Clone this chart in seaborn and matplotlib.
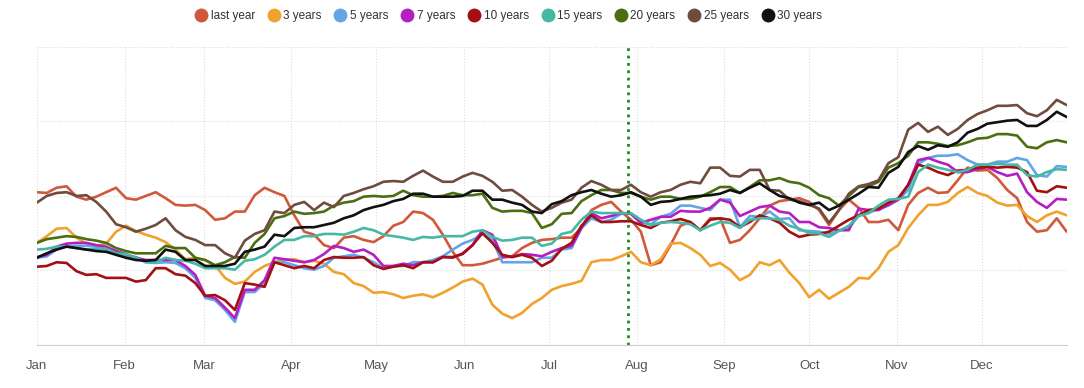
import pandas as pd
import seaborn as sns
import matplotlib.dates as mdates
from matplotlib import pyplot as plt
from matplotlib.lines import Line2D

# readings every half week, Jan 1 .. Dec 31
dates = pd.date_range("2023-01-01", periods=105, freq="84h")

last_year = [2.05, 2.04, 2.11, 2.13, 1.99, 1.95, 1.99, 2.05, 2.11, 1.97,
             1.95, 2.00, 2.05, 1.97, 1.88, 1.87, 1.88, 1.81, 1.68, 1.70,
             1.79, 1.79, 2.01, 2.11, 2.05, 2.00, 1.74, 1.52, 1.48, 1.34,
             1.30, 1.44, 1.46, 1.41, 1.38, 1.46, 1.60, 1.65, 1.79, 1.77,
             1.68, 1.48, 1.25, 1.07, 1.07, 1.09, 1.13, 1.17, 1.19, 1.30,
             1.37, 1.41, 1.42, 1.44, 1.44, 1.57, 1.81, 1.88, 1.92, 1.79,
             1.68, 1.52, 1.07, 1.11, 1.34, 1.60, 1.65, 1.54, 1.70, 1.70,
             1.37, 1.41, 1.54, 1.70, 1.87, 1.93, 1.95, 1.97, 1.92, 1.81,
             1.61, 1.81, 1.95, 1.84, 1.65, 1.65, 1.68, 1.54, 1.88, 2.04,
             2.11, 2.04, 2.05, 2.21, 2.38, 2.34, 2.35, 2.24, 2.08, 1.97,
             1.65, 1.52, 1.54, 1.70, 1.52]
y3 = [1.37, 1.46, 1.56, 1.57, 1.44, 1.36, 1.33, 1.36, 1.52, 1.60,
      1.53, 1.48, 1.44, 1.38, 1.28, 1.15, 1.17, 1.14, 1.07, 0.90,
      0.82, 0.85, 0.98, 1.06, 1.11, 1.15, 1.15, 1.11, 1.13, 1.09,
      0.98, 0.95, 0.83, 0.79, 0.70, 0.71, 0.68, 0.63, 0.66, 0.68,
      0.64, 0.70, 0.77, 0.85, 0.89, 0.81, 0.54, 0.42, 0.36, 0.43,
      0.55, 0.63, 0.74, 0.79, 0.82, 0.86, 1.11, 1.14, 1.14, 1.19,
      1.25, 1.11, 1.07, 1.15, 1.36, 1.37, 1.30, 1.21, 1.06, 1.10,
      1.01, 0.87, 0.94, 1.11, 1.07, 1.14, 0.97, 0.83, 0.64, 0.74,
      0.62, 0.70, 0.78, 0.90, 0.89, 1.03, 1.25, 1.34, 1.57, 1.74,
      1.88, 1.88, 1.92, 2.04, 2.12, 2.04, 2.00, 1.91, 1.87, 1.88,
      1.73, 1.65, 1.74, 1.79, 1.74]
y5 = [1.17, 1.19, 1.28, 1.32, 1.33, 1.33, 1.32, 1.28, 1.21, 1.19,
      1.18, 1.11, 1.10, 1.11, 1.10, 1.03, 0.90, 0.63, 0.60, 0.47,
      0.31, 0.71, 0.71, 0.83, 1.11, 1.11, 1.07, 1.03, 1.01, 1.06,
      1.17, 1.19, 1.21, 1.17, 1.11, 1.03, 1.06, 1.06, 1.11, 1.11,
      1.14, 1.19, 1.28, 1.36, 1.41, 1.49, 1.41, 1.11, 1.11, 1.11,
      1.11, 1.17, 1.17, 1.28, 1.30, 1.57, 1.70, 1.65, 1.68, 1.76,
      1.76, 1.64, 1.62, 1.72, 1.76, 1.87, 1.87, 1.84, 1.81, 1.95,
      1.95, 1.58, 1.73, 1.72, 1.79, 1.69, 1.70, 1.54, 1.53, 1.52,
      1.49, 1.54, 1.56, 1.74, 1.77, 1.83, 1.87, 1.95, 2.08, 2.43,
      2.51, 2.54, 2.54, 2.56, 2.48, 2.42, 2.42, 2.46, 2.46, 2.51,
      2.48, 2.28, 2.26, 2.40, 2.39]
y7 = [1.18, 1.21, 1.32, 1.36, 1.37, 1.37, 1.34, 1.32, 1.26, 1.22,
      1.17, 1.14, 1.14, 1.14, 1.14, 1.06, 0.94, 0.66, 0.63, 0.50,
      0.36, 0.74, 0.74, 0.87, 1.17, 1.15, 1.13, 1.11, 1.14, 1.22,
      1.33, 1.30, 1.25, 1.28, 1.21, 1.06, 1.06, 1.09, 1.07, 1.11,
      1.11, 1.18, 1.17, 1.23, 1.34, 1.54, 1.48, 1.19, 1.18, 1.22,
      1.21, 1.19, 1.25, 1.30, 1.33, 1.57, 1.77, 1.70, 1.73, 1.77,
      1.76, 1.64, 1.68, 1.72, 1.72, 1.80, 1.79, 1.79, 1.84, 1.95,
      1.91, 1.73, 1.79, 1.85, 1.87, 1.79, 1.77, 1.65, 1.65, 1.58,
      1.57, 1.54, 1.54, 1.83, 1.81, 1.81, 1.88, 1.95, 2.15, 2.48,
      2.51, 2.46, 2.42, 2.32, 2.32, 2.36, 2.39, 2.32, 2.27, 2.30,
      2.05, 1.92, 1.84, 1.96, 1.95]
y10 = [1.05, 1.06, 1.11, 1.10, 0.99, 0.94, 0.95, 0.90, 0.90, 0.90,
       0.85, 0.87, 1.03, 1.03, 0.95, 0.93, 0.83, 0.66, 0.67, 0.60,
       0.47, 0.83, 0.81, 0.78, 1.11, 1.07, 1.03, 1.06, 1.03, 1.14,
       1.18, 1.17, 1.17, 1.18, 1.07, 1.02, 1.05, 1.07, 1.03, 1.11,
       1.11, 1.18, 1.18, 1.22, 1.34, 1.50, 1.37, 1.21, 1.18, 1.21,
       1.17, 1.06, 1.13, 1.29, 1.37, 1.60, 1.74, 1.65, 1.65, 1.66,
       1.66, 1.61, 1.57, 1.64, 1.66, 1.69, 1.65, 1.54, 1.68, 1.70,
       1.68, 1.58, 1.65, 1.74, 1.70, 1.64, 1.52, 1.45, 1.48, 1.49,
       1.52, 1.60, 1.68, 1.74, 1.81, 1.83, 1.91, 1.97, 2.15, 2.42,
       2.38, 2.32, 2.28, 2.34, 2.35, 2.38, 2.39, 2.38, 2.39, 2.38,
       2.32, 2.07, 2.05, 2.13, 2.11]
y15 = [1.28, 1.29, 1.32, 1.32, 1.30, 1.28, 1.29, 1.29, 1.23, 1.22,
       1.17, 1.11, 1.11, 1.17, 1.14, 1.13, 1.09, 1.03, 1.03, 1.03,
       1.01, 1.13, 1.15, 1.21, 1.32, 1.41, 1.41, 1.46, 1.46, 1.49,
       1.49, 1.48, 1.52, 1.57, 1.54, 1.48, 1.46, 1.44, 1.41, 1.45,
       1.44, 1.46, 1.46, 1.46, 1.52, 1.54, 1.45, 1.40, 1.41, 1.44,
       1.44, 1.33, 1.36, 1.49, 1.52, 1.68, 1.79, 1.77, 1.77, 1.77,
       1.77, 1.68, 1.61, 1.64, 1.65, 1.64, 1.62, 1.54, 1.60, 1.65,
       1.64, 1.57, 1.68, 1.70, 1.70, 1.68, 1.60, 1.56, 1.50, 1.50,
       1.45, 1.53, 1.60, 1.73, 1.77, 1.87, 1.95, 1.96, 1.99, 2.32,
       2.42, 2.38, 2.35, 2.32, 2.35, 2.42, 2.42, 2.43, 2.42, 2.42,
       2.28, 2.26, 2.32, 2.36, 2.35]
y20 = [1.37, 1.42, 1.44, 1.46, 1.45, 1.42, 1.40, 1.37, 1.30, 1.26,
       1.23, 1.23, 1.23, 1.33, 1.30, 1.30, 1.17, 1.14, 1.07, 1.11,
       1.18, 1.17, 1.37, 1.49, 1.70, 1.73, 1.79, 1.76, 1.77, 1.79,
       1.87, 1.91, 1.93, 1.99, 2.00, 1.99, 2.00, 2.07, 2.01, 1.99,
       1.99, 2.00, 2.04, 2.01, 2.01, 2.03, 1.84, 1.79, 1.80, 1.80,
       1.77, 1.57, 1.62, 1.76, 1.77, 1.93, 2.01, 2.08, 2.08, 2.04,
       2.04, 1.99, 1.95, 1.99, 1.99, 1.96, 1.96, 1.99, 2.05, 2.12,
       2.12, 2.04, 2.12, 2.21, 2.21, 2.24, 2.19, 2.17, 2.11, 2.01,
       1.97, 1.87, 2.00, 2.12, 2.13, 2.19, 2.38, 2.44, 2.54, 2.72,
       2.72, 2.70, 2.67, 2.68, 2.72, 2.77, 2.78, 2.83, 2.83, 2.81,
       2.66, 2.64, 2.72, 2.75, 2.72]
y25 = [1.91, 2.00, 2.04, 2.05, 2.00, 2.01, 1.92, 1.79, 1.62, 1.58,
       1.52, 1.56, 1.61, 1.70, 1.54, 1.45, 1.41, 1.34, 1.34, 1.23,
       1.17, 1.40, 1.49, 1.54, 1.79, 1.77, 1.88, 1.92, 1.81, 1.91,
       1.85, 2.00, 2.04, 2.09, 2.13, 2.19, 2.20, 2.19, 2.27, 2.34,
       2.26, 2.19, 2.19, 2.26, 2.31, 2.27, 2.19, 2.07, 2.08, 1.99,
       1.88, 1.79, 1.84, 1.91, 1.95, 2.11, 2.20, 2.15, 2.08, 2.08,
       2.15, 2.05, 1.99, 2.05, 2.08, 2.15, 2.19, 2.17, 2.38, 2.38,
       2.27, 2.26, 2.35, 2.35, 2.08, 2.07, 1.95, 1.93, 1.88, 1.83,
       1.64, 1.81, 2.03, 2.13, 2.16, 2.21, 2.44, 2.52, 2.89, 2.98,
       2.86, 2.93, 2.82, 2.90, 3.02, 3.10, 3.15, 3.21, 3.21, 3.22,
       3.11, 3.07, 3.15, 3.29, 3.22]
y30 = [1.17, 1.23, 1.28, 1.32, 1.30, 1.28, 1.26, 1.25, 1.21, 1.17,
       1.14, 1.13, 1.14, 1.28, 1.25, 1.14, 1.14, 1.06, 1.06, 1.06,
       1.09, 1.25, 1.28, 1.32, 1.48, 1.46, 1.57, 1.58, 1.58, 1.61,
       1.64, 1.70, 1.74, 1.81, 1.85, 1.88, 1.93, 1.96, 2.03, 2.03,
       1.99, 1.99, 1.99, 2.00, 2.07, 2.07, 1.95, 1.95, 1.91, 1.88,
       1.79, 1.77, 1.89, 1.93, 2.01, 2.05, 2.08, 2.03, 1.99, 2.01,
       2.05, 1.99, 1.88, 1.92, 1.93, 1.96, 1.99, 2.00, 2.01, 2.03,
       2.08, 2.04, 2.11, 2.17, 2.08, 2.00, 1.97, 1.91, 1.88, 1.91,
       1.81, 1.87, 1.95, 2.03, 2.12, 2.11, 2.31, 2.39, 2.59, 2.67,
       2.62, 2.68, 2.66, 2.72, 2.85, 2.90, 2.97, 2.99, 3.01, 3.02,
       2.94, 2.94, 3.02, 3.13, 3.06]

series = {"last year": last_year, "3 years": y3, "5 years": y5, "7 years": y7,
          "10 years": y10, "15 years": y15, "20 years": y20, "25 years": y25,
          "30 years": y30}
colors = {"last year": "#d0593b", "3 years": "#f0a22c", "5 years": "#64a5e8",
          "7 years": "#b41ec2", "10 years": "#a30f12", "15 years": "#45b9a3",
          "20 years": "#4b6e10", "25 years": "#704c3e", "30 years": "#111111"}

df = pd.DataFrame(series, index=dates)
df.index.name = "date"
long = df.reset_index().melt(id_vars="date", var_name="series", value_name="value")

sns.set_style("white")
plt.rcParams["font.family"] = ["Liberation Sans", "DejaVu Sans"]

fig = plt.figure(figsize=(10.84, 3.88), dpi=100)
ax = fig.add_axes([0.034, 0.111, 0.950, 0.768])

sns.lineplot(data=long, x="date", y="value", hue="series", hue_order=list(series),
             palette=colors, linewidth=1.9, ax=ax, legend=False)

# marker for "today"
ax.axvline(pd.Timestamp("2023-07-29"), color="#1c8a1c", linestyle=":", linewidth=2)

ax.set_xlim(pd.Timestamp("2023-01-01"), pd.Timestamp("2023-12-31"))
ax.set_ylim(0, 4)
ax.set_yticks([1, 2, 3, 4])
ax.xaxis.set_major_locator(mdates.MonthLocator())
ax.xaxis.set_major_formatter(mdates.DateFormatter("%b"))
ax.grid(True, color="#dcdcdc", linestyle=":", linewidth=0.8)
ax.set_axisbelow(True)
for s in ["top", "right", "left"]:
    ax.spines[s].set_visible(False)
ax.spines["bottom"].set_color("#cfcfcf")
ax.tick_params(axis="y", length=0, labelleft=False)
ax.tick_params(axis="x", length=4, color="#cfcfcf", labelcolor="#555555",
               labelsize=9.5, pad=7)
ax.set_xlabel("")
ax.set_ylabel("")

handles = [Line2D([], [], marker="o", linestyle="", markersize=9,
                  markerfacecolor=colors[k], markeredgecolor=colors[k]) for k in series]
fig.legend(handles, list(series), loc="center", bbox_to_anchor=(0.469, 0.959), ncol=9,
           frameon=False, fontsize=8.5, handletextpad=0.25, columnspacing=1.05,
           handlelength=1.1, labelcolor="#333333")

plt.savefig("out.png", dpi=100)
